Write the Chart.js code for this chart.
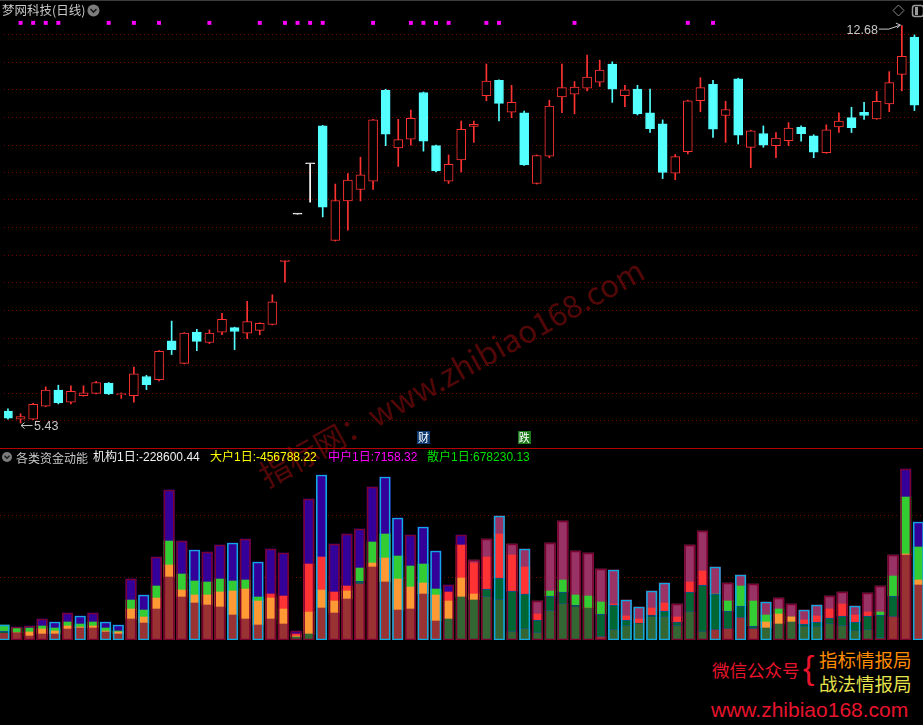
<!DOCTYPE html>
<html>
<head>
<meta charset="utf-8">
<title>梦网科技(日线)</title>
<script src="https://cdn.jsdelivr.net/npm/chart.js"></script>
<style>
  html, body { margin: 0; padding: 0; background: #000; }
  body { width: 923px; height: 725px; position: relative; overflow: hidden;
         font-family: "Liberation Sans", "Noto Sans CJK SC", sans-serif; }
  .abs { position: absolute; white-space: nowrap; }
  .cjk { font-family: "Noto Sans CJK SC", sans-serif; }
  #wm { left: 268px; top: 459px; font-size: 31px; line-height: 31px; color: #520808;
        transform-origin: 0 100%; transform: rotate(-29deg); }
  #topLine { left: 0; top: 0; width: 923px; height: 1px; background: #3c3c3c; }
  #sep { left: 0; top: 448px; width: 923px; height: 1px; background: #b40000; }
  #kWrap { left: 0; top: 0; width: 923px; height: 448px; }
  #fWrap { left: 0; top: 460px; width: 923px; height: 180px; }
  .lbl { top: 451px; font-size: 12px; line-height: 13px; }
</style>
</head>
<body>

<div id="wm" class="abs cjk">指标网：www.zhibiao168.com</div>
<div id="topLine" class="abs"></div>
<div id="kWrap" class="abs"><canvas id="kline" width="923" height="448"></canvas></div>
<div id="sep" class="abs"></div>
<div id="fWrap" class="abs"><canvas id="flow" width="923" height="180"></canvas></div>

<!-- title row -->
<div class="abs cjk" style="left:2px; top:3px; font-size:12.5px; line-height:14px; color:#c8c8c8;">梦网科技(日线)</div>
<svg class="abs" style="left:87px; top:4px;" width="13" height="13">
  <circle cx="6.5" cy="6.5" r="6" fill="#7c7c7c"/>
  <polyline points="3.5,5 6.5,8 9.5,5" fill="none" stroke="#1a1a1a" stroke-width="1.6"/>
</svg>
<svg class="abs" style="left:892px; top:4px;" width="31" height="14">
  <polygon points="6.5,1 12,6.5 6.5,12 1,6.5" fill="none" stroke="#8a8a8a" stroke-width="1"/>
  <rect x="20.5" y="1.5" width="11" height="11" rx="2.5" fill="none" stroke="#9a9a9a" stroke-width="1.5"/>
  <rect x="23" y="3" width="3" height="8" fill="#9a9a9a"/>
</svg>

<!-- indicator label row -->
<svg class="abs" style="left:1px; top:451px;" width="12" height="12">
  <circle cx="6" cy="6" r="5" fill="#7c7c7c"/>
  <polyline points="3.5,4.8 6,7.3 8.5,4.8" fill="none" stroke="#1a1a1a" stroke-width="1.4"/>
</svg>
<div class="abs lbl cjk" style="left:16px; color:#c8c8c8;">各类资金动能</div>
<div class="abs lbl" style="left:93px; color:#f0f0f0;">机构1日:-228600.44</div>
<div class="abs lbl" style="left:210px; color:#ffff00;">大户1日:-456788.22</div>
<div class="abs lbl" style="left:328px; color:#ff00ff;">中户1日:7158.32</div>
<div class="abs lbl" style="left:427px; color:#00e000;">散户1日:678230.13</div>

<!-- bottom right watermark -->
<div class="abs cjk" style="left:712px; top:661px; font-size:17.5px; line-height:18px; color:#e8142c;">微信公众号</div>
<div class="abs" style="left:803px; top:650px; font-size:34px; line-height:34px; color:#e8142c;">{</div>
<div class="abs cjk" style="left:819px; top:650px; font-size:18.5px; line-height:19px; color:#ff8c00;">指标情报局</div>
<div class="abs cjk" style="left:819px; top:674px; font-size:18.5px; line-height:19px; color:#e6e24c;">战法情报局</div>
<div class="abs" style="left:711px; top:699px; font-size:21px; line-height:21px; color:#e8142c;">www.zhibiao168.com</div>

<script>
// 日K数据 (73 根)
const opens  = [5.65, 5.50, 5.50, 5.74, 6.03, 5.81, 5.93, 5.97, 6.16, 5.95,
                5.93, 6.28, 6.22, 6.93, 6.52, 7.09, 6.90, 7.09, 7.17, 7.07,
                7.12, 7.23, 8.38, 9.24, 10.16, 10.85, 8.76, 9.48, 9.69, 9.84,
                11.50, 10.45, 10.61, 11.46, 10.49, 9.84, 10.23, 10.84, 11.40, 11.68,
                11.10, 11.09, 9.80, 10.30, 11.38, 11.43, 11.54, 11.65, 11.98, 11.40,
                11.52, 11.09, 10.89, 9.99, 10.38, 11.31, 11.61, 11.04, 11.71, 10.46,
                10.71, 10.49, 10.58, 10.83, 10.67, 10.36, 10.83, 11.00, 11.10, 10.98,
                11.25, 11.79, 12.47];
const highs  = [5.69, 5.60, 5.79, 6.09, 6.12, 6.11, 6.11, 6.19, 6.17, 5.98,
                6.45, 6.30, 6.75, 7.29, 7.08, 7.14, 7.13, 7.43, 7.18, 7.65,
                7.26, 7.77, 8.40, 9.24, 10.16, 10.86, 9.79, 9.98, 10.28, 10.97,
                11.52, 10.97, 11.14, 11.47, 10.50, 10.32, 10.94, 10.94, 11.98, 11.69,
                11.59, 11.12, 10.32, 11.32, 11.98, 11.66, 12.14, 12.05, 12.02, 11.59,
                11.59, 11.52, 10.96, 10.33, 11.32, 11.73, 11.68, 11.30, 11.72, 10.77,
                10.85, 10.73, 10.91, 10.85, 10.69, 10.87, 11.09, 11.19, 11.28, 11.48,
                11.84, 12.68, 12.51];
const lows   = [5.50, 5.43, 5.49, 5.73, 5.78, 5.78, 5.92, 5.96, 5.95, 5.88,
                5.81, 6.04, 6.20, 6.68, 6.51, 6.75, 6.88, 7.04, 6.77, 6.97,
                7.04, 7.22, 8.00, 9.24, 9.46, 9.19, 8.75, 8.95, 9.48, 9.69,
                10.49, 10.11, 10.50, 10.39, 10.01, 9.80, 10.01, 10.55, 11.31, 10.94,
                11.00, 10.13, 9.79, 10.27, 11.09, 11.07, 11.49, 11.57, 11.28, 11.20,
                11.05, 10.73, 9.89, 9.87, 10.34, 11.11, 10.64, 10.55, 10.52, 10.09,
                10.46, 10.27, 10.49, 10.57, 10.27, 10.35, 10.73, 10.73, 10.97, 10.97,
                11.11, 11.49, 11.13];
const closes = [5.52, 5.55, 5.77, 6.03, 5.80, 6.01, 5.98, 6.17, 5.96, 5.96,
                6.33, 6.13, 6.74, 6.77, 7.07, 6.92, 7.07, 7.32, 7.10, 7.28,
                7.25, 7.64, 8.40, 9.24, 10.16, 9.37, 9.49, 9.86, 9.96, 10.96,
                10.70, 10.60, 10.99, 10.57, 10.03, 10.15, 10.79, 10.88, 11.67, 11.26,
                11.28, 10.14, 10.31, 11.21, 11.55, 11.56, 11.74, 11.87, 11.52, 11.51,
                11.07, 10.80, 10.00, 10.29, 11.31, 11.55, 10.79, 11.15, 10.68, 10.76,
                10.50, 10.63, 10.81, 10.71, 10.37, 10.78, 10.94, 10.82, 11.04, 11.30,
                11.64, 12.12, 11.23];

// 顶部品红信号点所在的K线序号
const signalIdx = [1, 2, 3, 4, 8, 10, 12, 16, 20, 22, 23, 24, 25, 29, 32, 33, 34, 35, 38, 39, 45, 54, 56];
const signalLevel = 12.73;

// 财 / 跌 标记
const markIdx  = [33, 41];
const markText = ['财', '跌'];

// 价格坐标网格线
const priceGrid = [12.51, 12.01, 11.51, 11.00, 10.50, 10.00, 9.50, 8.99, 8.49,
                   7.99, 7.48, 6.98, 6.48, 5.97, 5.47];

// 各类资金动能 (万, 正负决定颜色)
const jigou   = [6.7, 7.3, 4, 6, 6, 11, 12, 12, 8, 6,
                 21, 17, 31, 63, 43, 37, 35, 33, 25, 21,
                 15, 21, 16, -3, -6, 32, 27, 41, 56, 73,
                 58, 30, 31, 46, 19, -21, -43, -40, -43, -40,
                 -8, -11, -7, -29, -36, -33, -32, 3, -10, -14,
                 -16, -23, -23, -14, -28, -8, 10, 11, 22, 11,
                 -12, -16, -18, -13, -13, -16, -14, -9, -10, -2,
                 23, 85, 55];
const dahu    = [-2.3, 0, 4, 5, 3, 3, 1, 2, 1, 2,
                 10, 6, 11, 12, 7, 8, 10, 15, 24, 30,
                 24, 21, 15, 1, 22, 18, 12, 8, -3, 4,
                 24, 31, 22, 11, 26, 18, 19, 6, -8, -22,
                 -41, -35, -13, -15, -12, -2, 0, -23, -25, -6,
                 -1, -2, -6, -4, -20, -47, -36, -18, -12, -3,
                 6, 10, 5, -3, -5, -6, -10, -9, -14, -23,
                 -21, 1, 5];
const zhonghu = [6, 4.7, 4, 3, 3, 4, 3, 4, 3, 1,
                 9, 7, 12, 24, 16, 14, 13, 13, 10, 9,
                 4, -4, -13, -2, -48, -33, -9, -5, 13, 21,
                 24, 23, 21, 19, 6, -9, -33, -31, -32, -44,
                 -36, -27, -6, 5, 12, 10, 12, 12, -1, -4,
                 -4, -7, -8, -5, -10, -14, 0, 10, 20, 25,
                 7, 5, 0, -4, -6, -9, -12, -7, -4, 3,
                 20, 57, 33];
const sanhu   = [0, 1, 2, 7, 6, 9, 8, 9, 6, 6,
                 21, 15, 29, 51, 33, 31, 30, 34, 38, 41,
                 35, 45, 43, 3, 65, 82, 48, 52, 39, 55,
                 57, 38, 31, 37, 38, 7, 10, -3, -18, -18,
                 -11, -18, -13, -48, -59, -44, -43, -33, -34, -16,
                 -12, -17, -20, -13, -37, -40, -27, -18, -11, -17,
                 -13, -11, -13, -10, -11, -13, -12, -9, -19, -26,
                 -21, 28, 25];
const flowGrid = [62.5, 125];

const RED = '#ff3232', CYAN = '#54ffff', WHITE = '#ffffff';
const GRID = '#7a0000';

function candleColor(i) {
  if (closes[i] > opens[i]) return RED;
  if (closes[i] < opens[i]) return CYAN;
  return WHITE;
}
function isUpDay(i) {
  return i > 0 && closes[i] > closes[i - 1];
}

const xRange = { min: -0.315, max: 72.362 };

// K线图上的文字标注
const priceMarks = {
  id: 'priceMarks',
  afterDatasetsDraw(chart) {
    const { ctx, chartArea, scales: { x, y } } = chart;
    const hiVal = Math.max(...highs), hiIdx = highs.indexOf(hiVal);
    const loVal = Math.min(...lows), loIdx = lows.indexOf(loVal);
    ctx.save();
    ctx.font = '12.5px "Liberation Sans", sans-serif';
    ctx.fillStyle = '#c8c8c8';
    ctx.strokeStyle = '#c8c8c8';
    ctx.lineWidth = 1;
    ctx.textBaseline = 'middle';

    const hx = x.getPixelForValue(hiIdx), hy = y.getPixelForValue(hiVal);
    ctx.textAlign = 'right';
    ctx.fillText(hiVal.toFixed(2), hx - 24, hy + 4.5);
    ctx.beginPath();
    ctx.moveTo(hx - 23, hy + 3.5);
    ctx.lineTo(hx - 13, hy + 3.5);
    ctx.lineTo(hx - 1.5, hy - 0.5);
    ctx.moveTo(hx - 1.5, hy - 0.5);
    ctx.lineTo(hx - 6, hy - 2.5);
    ctx.moveTo(hx - 1.5, hy - 0.5);
    ctx.lineTo(hx - 5, hy + 2.5);
    ctx.stroke();

    const lx = x.getPixelForValue(loIdx), ly = y.getPixelForValue(loVal);
    ctx.textAlign = 'left';
    ctx.fillText(loVal.toFixed(2), lx + 13.5, ly + 3.5);
    ctx.beginPath();
    ctx.moveTo(lx + 12, ly + 2.5);
    ctx.lineTo(lx + 0.5, ly + 2.5);
    ctx.moveTo(lx + 0.5, ly + 2.5);
    ctx.lineTo(lx + 4, ly - 0.5);
    ctx.moveTo(lx + 0.5, ly + 2.5);
    ctx.lineTo(lx + 4, ly + 5.5);
    ctx.stroke();

    ctx.font = '11px "Noto Sans CJK SC", sans-serif';
    ctx.textAlign = 'center';
    markIdx.forEach((m, k) => {
      const mx = x.getPixelForValue(m);
      ctx.fillStyle = k === 0 ? '#0e3a72' : '#1c7a1c';
      ctx.fillRect(Math.round(mx - 6.5), chartArea.bottom - 13, 13, 13);
      ctx.fillStyle = '#ffffff';
      ctx.fillText(markText[k], mx, chartArea.bottom - 6.5);
    });
    ctx.restore();
  }
};

const hiddenX = { type: 'linear', min: xRange.min, max: xRange.max, offset: false, display: false, grid: { offset: false } };

function gridY(min, max, values) {
  return {
    type: 'linear', min: min, max: max, display: true,
    ticks: { display: false },
    grid: { color: GRID, lineWidth: 1, drawTicks: false },
    border: { display: false, dash: [1, 3] },
    afterBuildTicks: axis => { axis.ticks = values.map(v => ({ value: v })); },
    afterFit: axis => { axis.width = 0; }
  };
}

const common = {
  responsive: false,
  maintainAspectRatio: false,
  animation: false,
  events: [],
  layout: { padding: 0 },
  plugins: { legend: { display: false }, tooltip: { enabled: false } }
};

// 主图K线
new Chart(document.getElementById('kline'), {
  type: 'bar',
  data: {
    datasets: [
      {
        type: 'scatter',
        label: '信号',
        data: signalIdx.map(i => ({ x: i, y: signalLevel })),
        pointStyle: 'rect',
        pointRadius: 2.8,
        backgroundColor: '#ff00ff',
        borderWidth: 0,
        order: 0
      },
      {
        label: '实体',
        data: opens.map((o, i) => ({ x: i, y: [o, closes[i]] })),
        backgroundColor: c => {
          const col = candleColor(c.dataIndex);
          return col === RED ? '#000000' : col;
        },
        borderColor: c => candleColor(c.dataIndex),
        borderWidth: 1,
        borderSkipped: false,
        barThickness: 9,
        maxBarThickness: 9,
        minBarLength: 1,
        grouped: false,
        order: 1
      },
      {
        label: '影线',
        data: lows.map((l, i) => ({ x: i, y: [l, highs[i]] })),
        backgroundColor: c => candleColor(c.dataIndex),
        borderWidth: 0,
        barThickness: 1,
        maxBarThickness: 1,
        grouped: false,
        order: 2
      }
    ]
  },
  options: {
    ...common,
    scales: {
      x: hiddenX,
      y: gridY(5.048, 13.074, priceGrid)
    }
  },
  plugins: [priceMarks]
});

// 副图 各类资金动能
const slots = [
  { name: '机构', vals: jigou,   pos: '#993333', neg: '#336633' },
  { name: '大户', vals: dahu,    pos: '#ff9933', neg: '#006633' },
  { name: '中户', vals: zhonghu, pos: '#33cc33', neg: '#ff3333' },
  { name: '散户', vals: sanhu,   pos: '#330099', neg: '#993366' }
];

const flowSets = slots.map(s => ({
  label: s.name,
  stack: 'flow',
  data: s.vals.map((v, i) => ({ x: i, y: Math.abs(v) })),
  backgroundColor: c => s.vals[c.dataIndex] >= 0 ? s.pos : s.neg,
  borderColor: c => (s.name === '大户' && s.vals[c.dataIndex] < 0) ? '#0a4c9c' : 'rgba(0,0,0,0)',
  borderWidth: c => (s.name === '大户' && s.vals[c.dataIndex] < 0) ? 1 : 0,
  borderSkipped: false,
  barThickness: 10.5,
  maxBarThickness: 10.5,
  grouped: false,
  order: 1
}));

const totals = jigou.map((v, i) =>
  Math.abs(v) + Math.abs(dahu[i]) + Math.abs(zhonghu[i]) + Math.abs(sanhu[i]));

flowSets.push({
  label: '外框',
  stack: 'box',
  data: totals.map((t, i) => ({ x: i, y: t })),
  backgroundColor: 'rgba(0,0,0,0)',
  borderColor: c => isUpDay(c.dataIndex) ? '#7a0030' : '#10a8e0',
  borderWidth: 1,
  borderSkipped: false,
  barThickness: 10.5,
  maxBarThickness: 10.5,
  grouped: false,
  order: 0
});

new Chart(document.getElementById('flow'), {
  type: 'bar',
  data: { datasets: flowSets },
  options: {
    ...common,
    scales: {
      x: { ...hiddenX, stacked: true },
      y: { ...gridY(0, 180, flowGrid), stacked: true }
    }
  }
});
</script>
</body>
</html>
